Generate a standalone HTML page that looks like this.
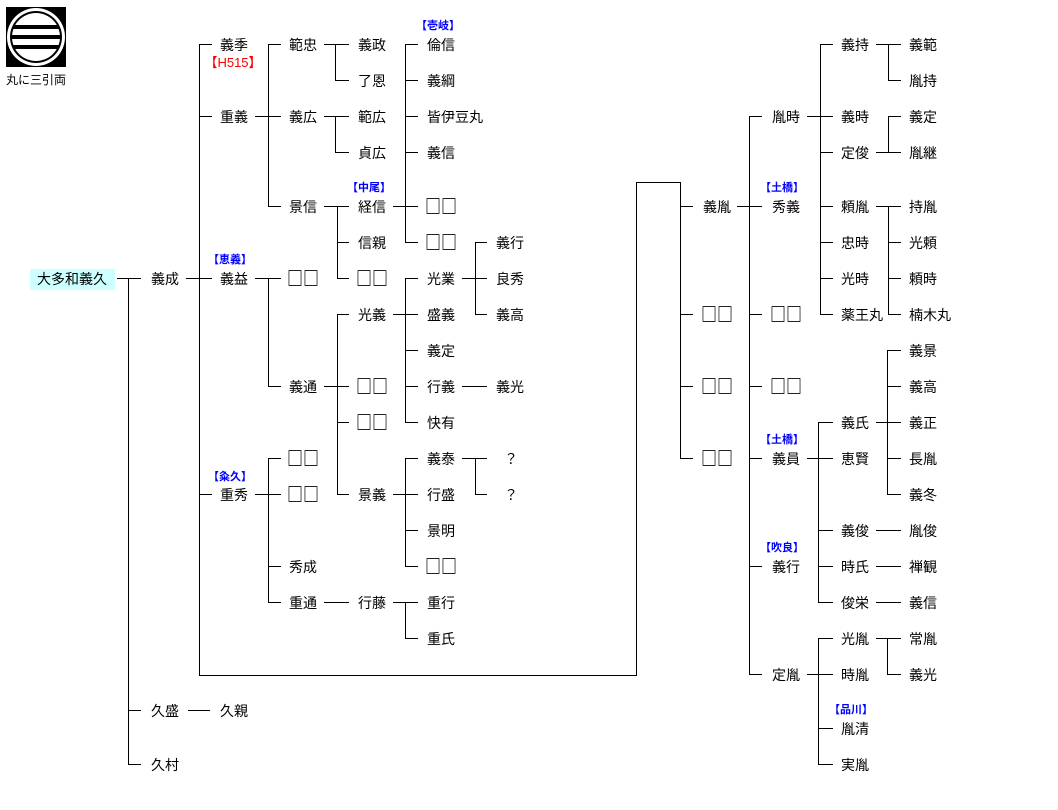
<!DOCTYPE html>
<html><head><meta charset="utf-8">
<style>
html,body{margin:0;padding:0;background:#fff;}
svg text{font-family:"Noto Sans CJK JP","Liberation Sans",sans-serif;font-size:14px;fill:#000;}
svg text.b{font-size:11px;fill:#0000ff;font-weight:bold;text-anchor:middle;}
svg text.r{font-family:"Liberation Sans","Noto Sans CJK JP",sans-serif;font-size:13px;fill:#ff0000;text-anchor:middle;}
svg text.q{font-size:19px;font-weight:bold;}
</style></head>
<body>
<svg width="1058" height="805" viewBox="0 0 1058 805" xmlns="http://www.w3.org/2000/svg">
<rect x="6" y="7" width="60" height="60" fill="#000"/>
<circle cx="36" cy="37" r="29" fill="#fff"/>
<circle cx="36" cy="37" r="26" fill="#000"/>
<circle cx="36" cy="37" r="24" fill="#fff"/>
<rect x="13" y="25" width="46" height="4" fill="#000"/>
<rect x="12" y="35" width="48" height="4" fill="#000"/>
<rect x="13" y="45" width="46" height="4" fill="#000"/>
<text x="6" y="84" style="font-size:12px">丸に三引両</text>
<rect x="30" y="269" width="85" height="21" fill="#ccffff"/>
<path fill="none" stroke="#000" stroke-width="1" d="
M117 278.5H141 M128.5 278V765 M128 710.5H141 M128 764.5H141 M188 710.5H210
M186 278.5H212 M199.5 44V676 M199 44.5H212 M199 116.5H212 M199 494.5H212 M199 675.5H636 M636.5 182V676 M636 182.5H680
M255 116.5H281 M268.5 44V207 M268 44.5H281 M268 206.5H281
M324 44.5H349 M335.5 44V81 M335 80.5H349
M324 116.5H349 M335.5 116V153 M335 152.5H349
M324 206.5H349 M337.5 206V279 M337 242.5H349 M337 278.5H349
M393 206.5H418 M405.5 44V243 M405 44.5H418 M405 80.5H418 M405 116.5H418 M405 152.5H418 M405 242.5H418
M255 278.5H281 M268.5 278V387 M268 386.5H281
M324 386.5H349 M337.5 314V495 M337 314.5H349 M337 422.5H349 M337 494.5H349
M393 314.5H418 M405.5 278V423 M405 278.5H418 M405 350.5H418 M405 386.5H418 M405 422.5H418
M462 278.5H487 M475.5 242V315 M475 242.5H487 M475 314.5H487
M462 386.5H487
M393 494.5H418 M405.5 458V567 M405 458.5H418 M405 530.5H418 M405 566.5H418
M462 458.5H487 M475.5 458V495 M475 494.5H487
M255 494.5H281 M268.5 458V603 M268 458.5H281 M268 566.5H281 M268 602.5H281
M324 602.5H349
M393 602.5H418 M405.5 602V639 M405 638.5H418
M680.5 182V459 M680 206.5H693 M680 314.5H693 M680 386.5H693 M680 458.5H693
M737 206.5H762 M749.5 116V675 M749 116.5H762 M749 314.5H762 M749 386.5H762 M749 458.5H762 M749 566.5H762 M749 674.5H762
M807 116.5H833 M820.5 44V315 M820 44.5H833 M820 152.5H833 M820 206.5H833 M820 242.5H833 M820 278.5H833 M820 314.5H833
M876 44.5H901 M888.5 44V81 M888 80.5H901
M888.5 116V153 M888 116.5H901 M876 152.5H901
M876 206.5H901 M888.5 206V315 M888 242.5H901 M888 278.5H901 M888 314.5H901
M807 458.5H833 M818.5 422V603 M818 422.5H833 M818 530.5H833 M818 566.5H833 M818 602.5H833
M876 422.5H901 M887.5 350V495 M887 350.5H901 M887 386.5H901 M887 458.5H901 M887 494.5H901
M876 530.5H901 M876 566.5H901 M876 602.5H901
M807 674.5H833 M818.5 638V765 M818 638.5H833 M818 728.5H833 M818 764.5H833
M876 638.5H901 M887.5 638V675 M887 674.5H901
"/>
<text x="37" y="284">大多和義久</text>
<text x="151" y="284">義成</text>
<text x="151" y="716">久盛</text>
<text x="220" y="716">久親</text>
<text x="151" y="770">久村</text>
<text x="220" y="50">義季</text>
<text class="r" x="233" y="67">【H515】</text>
<text x="220" y="122">重義</text>
<text class="b" x="230" y="263">【恵義】</text>
<text x="220" y="284">義益</text>
<text class="b" x="230" y="480">【粂久】</text>
<text x="220" y="500">重秀</text>
<text x="289" y="50">範忠</text>
<text x="289" y="122">義広</text>
<text x="289" y="212">景信</text>
<text class="q" x="287" y="285" textLength="32" lengthAdjust="spacingAndGlyphs">□□</text>
<text x="289" y="392">義通</text>
<text class="q" x="287" y="465" textLength="32" lengthAdjust="spacingAndGlyphs">□□</text>
<text class="q" x="287" y="501" textLength="32" lengthAdjust="spacingAndGlyphs">□□</text>
<text x="289" y="572">秀成</text>
<text x="289" y="608">重通</text>
<text x="358" y="50">義政</text>
<text x="358" y="86">了恩</text>
<text x="358" y="122">範広</text>
<text x="358" y="158">貞広</text>
<text class="b" x="369" y="191">【中尾】</text>
<text x="358" y="212">経信</text>
<text x="358" y="248">信親</text>
<text class="q" x="356" y="285" textLength="32" lengthAdjust="spacingAndGlyphs">□□</text>
<text x="358" y="320">光義</text>
<text class="q" x="356" y="393" textLength="32" lengthAdjust="spacingAndGlyphs">□□</text>
<text class="q" x="356" y="429" textLength="32" lengthAdjust="spacingAndGlyphs">□□</text>
<text x="358" y="500">景義</text>
<text x="358" y="608">行藤</text>
<text class="b" x="438" y="29">【壱岐】</text>
<text x="427" y="50">倫信</text>
<text x="427" y="86">義綱</text>
<text x="427" y="122">皆伊豆丸</text>
<text x="427" y="158">義信</text>
<text class="q" x="425" y="213" textLength="32" lengthAdjust="spacingAndGlyphs">□□</text>
<text class="q" x="425" y="249" textLength="32" lengthAdjust="spacingAndGlyphs">□□</text>
<text x="427" y="284">光業</text>
<text x="427" y="320">盛義</text>
<text x="427" y="356">義定</text>
<text x="427" y="392">行義</text>
<text x="427" y="428">快有</text>
<text x="427" y="464">義泰</text>
<text x="427" y="500">行盛</text>
<text x="427" y="536">景明</text>
<text class="q" x="425" y="573" textLength="32" lengthAdjust="spacingAndGlyphs">□□</text>
<text x="427" y="608">重行</text>
<text x="427" y="644">重氏</text>
<text x="496" y="248">義行</text>
<text x="496" y="284">良秀</text>
<text x="496" y="320">義高</text>
<text x="496" y="392">義光</text>
<text x="504" y="464">？</text>
<text x="504" y="500">？</text>
<text x="703" y="212">義胤</text>
<text class="q" x="701" y="321" textLength="32" lengthAdjust="spacingAndGlyphs">□□</text>
<text class="q" x="701" y="393" textLength="32" lengthAdjust="spacingAndGlyphs">□□</text>
<text class="q" x="701" y="465" textLength="32" lengthAdjust="spacingAndGlyphs">□□</text>
<text x="772" y="122">胤時</text>
<text class="b" x="782" y="191">【土橋】</text>
<text x="772" y="212">秀義</text>
<text class="q" x="770" y="321" textLength="32" lengthAdjust="spacingAndGlyphs">□□</text>
<text class="q" x="770" y="393" textLength="32" lengthAdjust="spacingAndGlyphs">□□</text>
<text class="b" x="782" y="443">【土橋】</text>
<text x="772" y="464">義員</text>
<text class="b" x="782" y="551">【吹良】</text>
<text x="772" y="572">義行</text>
<text x="772" y="680">定胤</text>
<text x="841" y="50">義持</text>
<text x="841" y="122">義時</text>
<text x="841" y="158">定俊</text>
<text x="841" y="212">頼胤</text>
<text x="841" y="248">忠時</text>
<text x="841" y="284">光時</text>
<text x="841" y="320">薬王丸</text>
<text x="841" y="428">義氏</text>
<text x="841" y="464">恵賢</text>
<text x="841" y="536">義俊</text>
<text x="841" y="572">時氏</text>
<text x="841" y="608">俊栄</text>
<text x="841" y="644">光胤</text>
<text x="841" y="680">時胤</text>
<text class="b" x="851" y="713">【品川】</text>
<text x="841" y="734">胤清</text>
<text x="841" y="770">実胤</text>
<text x="909" y="50">義範</text>
<text x="909" y="86">胤持</text>
<text x="909" y="122">義定</text>
<text x="909" y="158">胤継</text>
<text x="909" y="212">持胤</text>
<text x="909" y="248">光頼</text>
<text x="909" y="284">頼時</text>
<text x="909" y="320">楠木丸</text>
<text x="909" y="356">義景</text>
<text x="909" y="392">義高</text>
<text x="909" y="428">義正</text>
<text x="909" y="464">長胤</text>
<text x="909" y="500">義冬</text>
<text x="909" y="536">胤俊</text>
<text x="909" y="572">禅観</text>
<text x="909" y="608">義信</text>
<text x="909" y="644">常胤</text>
<text x="909" y="680">義光</text>
</svg>
</body></html>
